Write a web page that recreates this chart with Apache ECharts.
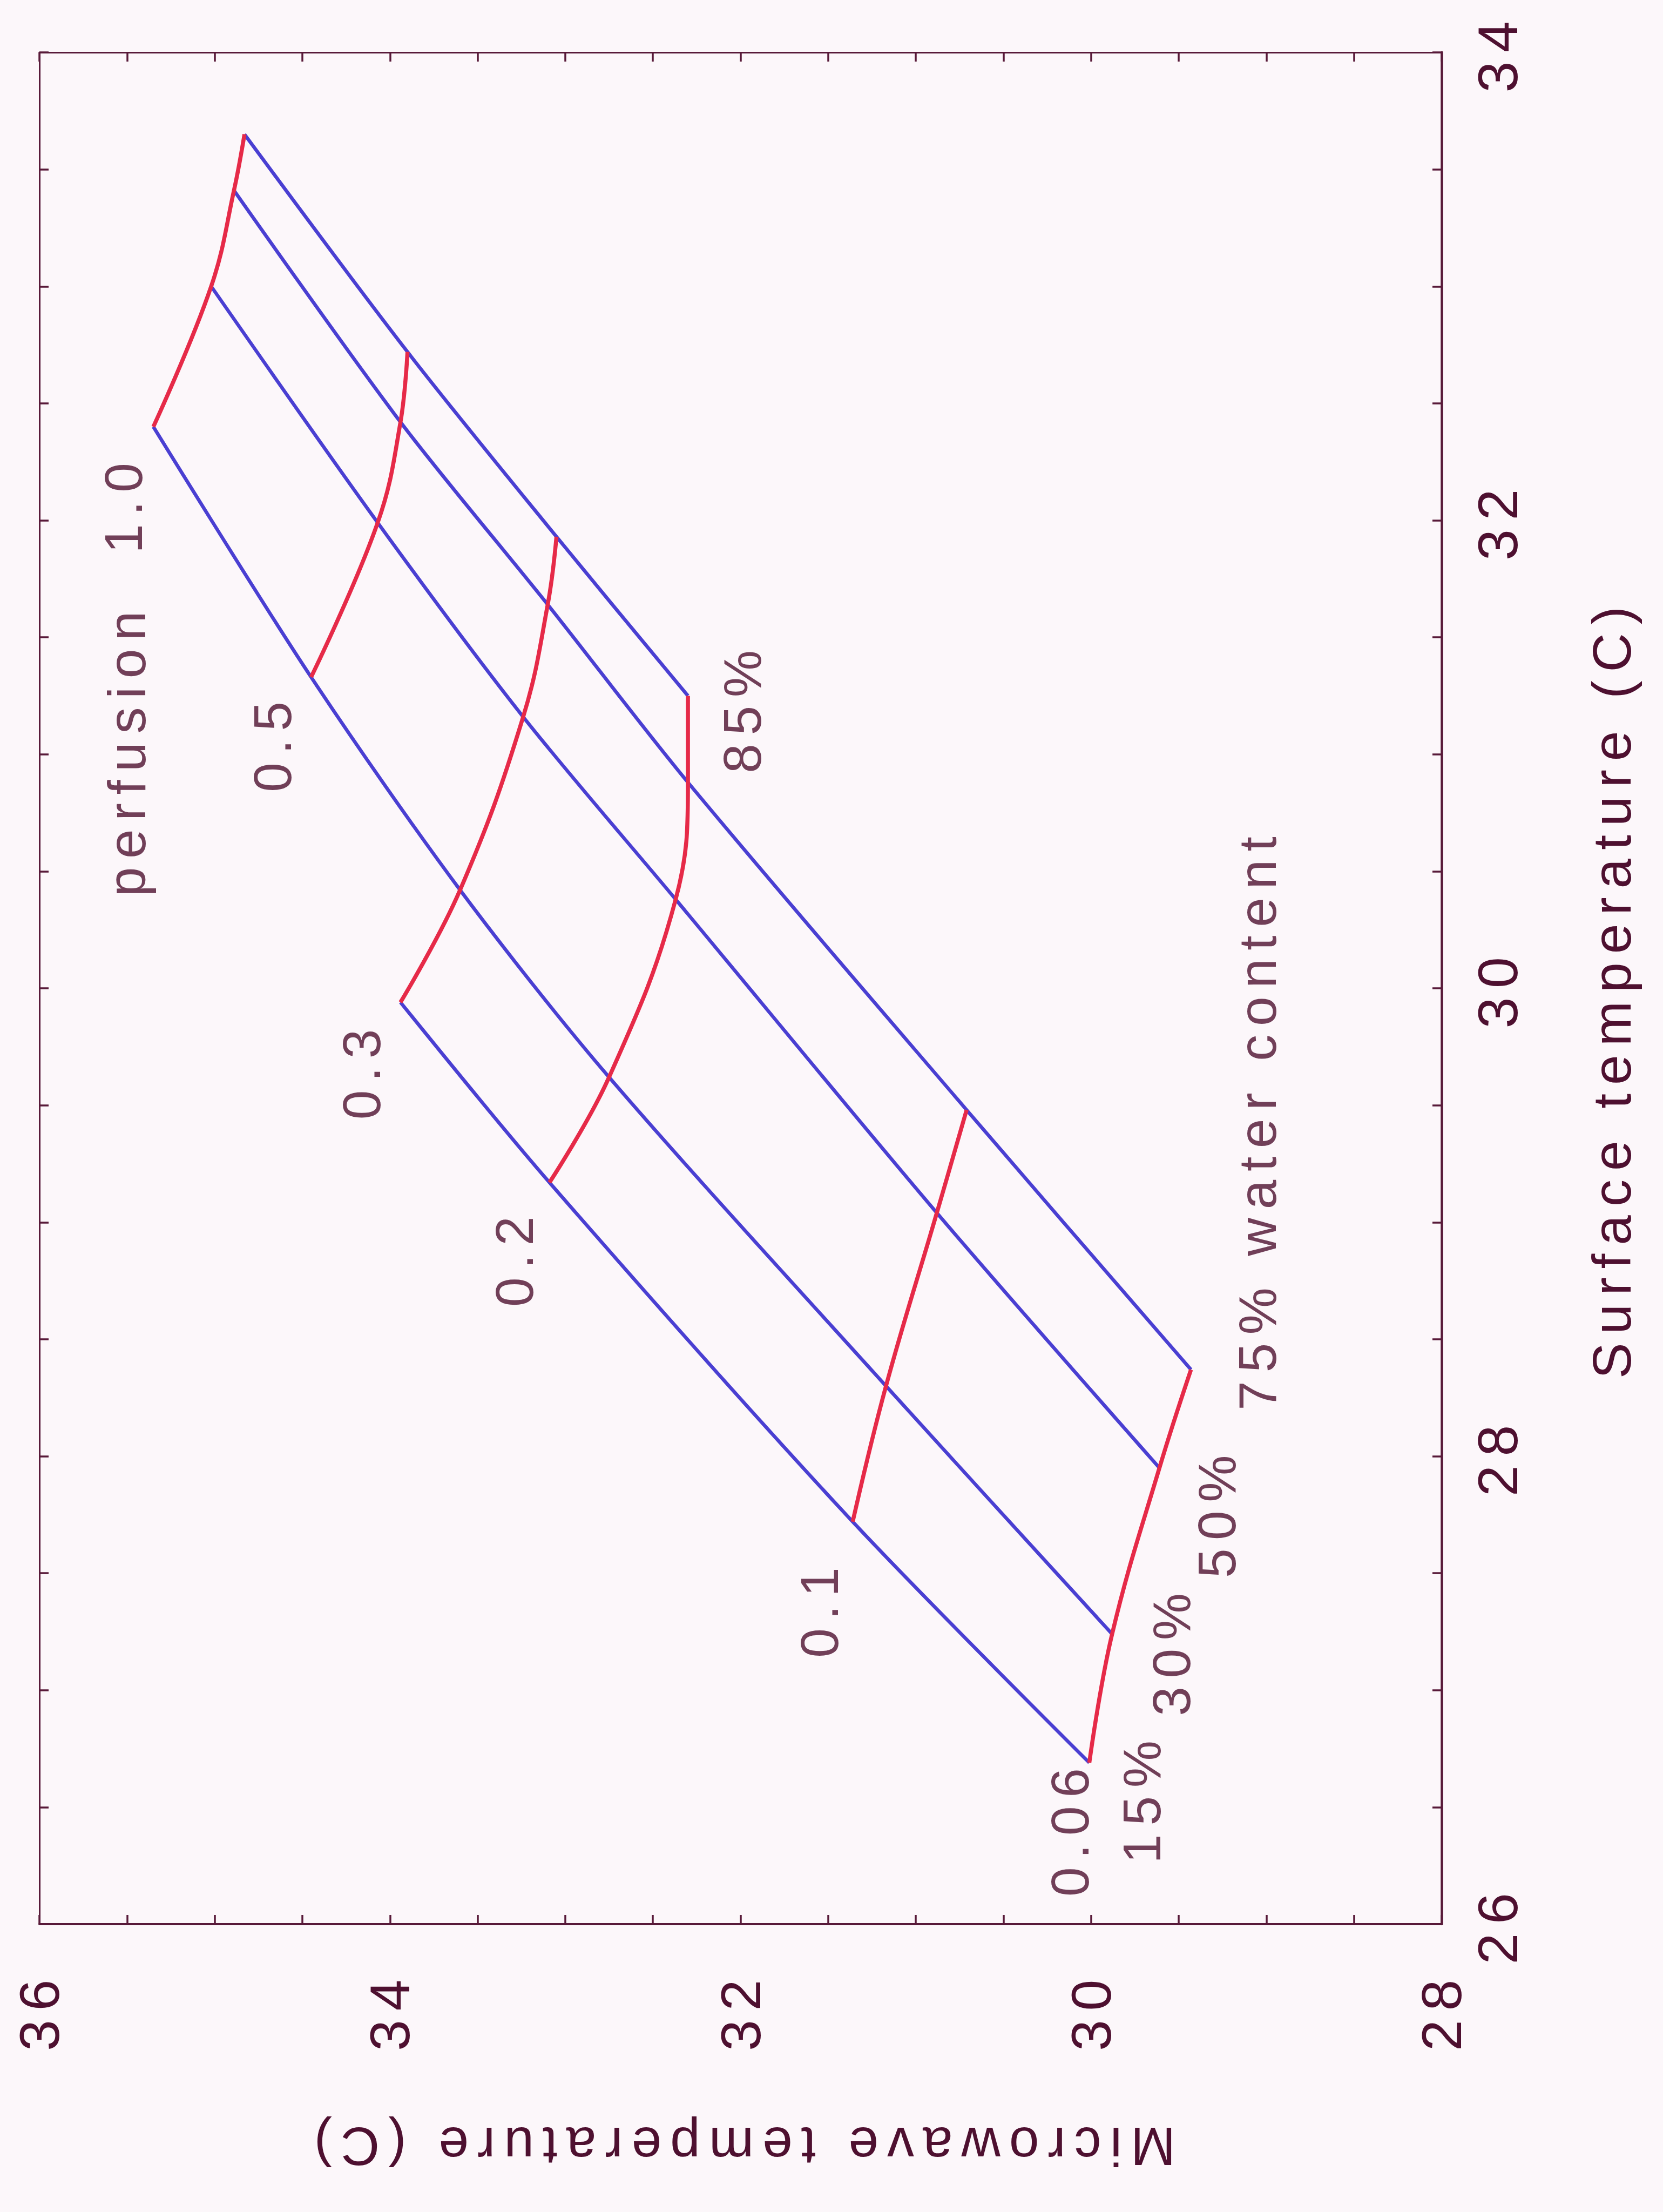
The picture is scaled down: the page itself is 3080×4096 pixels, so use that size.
<!DOCTYPE html>
<html>
<head>
<meta charset="utf-8">
<style>
html, body { margin: 0; padding: 0; background: #fcf7fa; }
#chart { width: 3080px; height: 4096px; }
#chart text { letter-spacing: 0.16em; }
</style>
<script src="https://cdn.jsdelivr.net/npm/echarts@6/dist/echarts.min.js"></script>
</head>
<body>
<div id="chart"></div>
<script>
// Perfusion levels (red curves) and water-content levels (blue curves)
const perfusion = [0.06, 0.1, 0.2, 0.3, 0.5, 1.0];
const perfusionLabels = ['0.06', '0.1', '0.2', '0.3', '0.5', '1.0'];
const waterContent = ['15%', '30%', '50%', '75%', '85%'];

// Microwave temperature (C) and surface temperature (C) at each perfusion level,
// one pair of arrays per water-content line (null = not computed)
const mw15 = [30.01, 31.36, 33.09, 33.94, null, null];
const st15 = [26.69, 27.72, 29.17, 29.94, null, null];
const mw30 = [29.88, 31.17, 32.75, 33.60, 34.45, 35.35];
const st30 = [27.24, 28.30, 29.62, 30.42, 31.33, 32.40];
const mw50 = [29.61, 30.88, 32.37, 33.24, 34.07, 35.02];
const st50 = [27.95, 29.04, 30.38, 31.16, 31.99, 33.00];
const mw75 = [29.43, 30.71, 32.30, 33.10, 33.94, 34.89];
const st75 = [28.37, 29.48, 30.88, 31.64, 32.42, 33.41];
const mw85 = [null, null, 32.30, 33.05, 33.90, 34.83];
const st85 = [null, null, 31.25, 31.93, 32.72, 33.65];

// Tick labels
const microwaveTicks = [28, 30, 32, 34, 36];
const surfaceTicks = [26, 28, 30, 32, 34];

// In-plot annotations: text, microwave temp, surface temp (label centres)
const annoText = ['0.06', '0.1', '0.2', '0.3', '0.5', '1.0', 'perfusion',
                  '15%', '30%', '50%', '75% water content', '85%'];
const annoMw = [30.12, 31.55, 33.29, 34.16, 34.67, 35.52, 35.50,
                29.71, 29.54, 29.28, 29.05, 31.99];
const annoSt = [26.41, 27.35, 28.85, 29.65, 31.05, 32.07, 31.02,
                26.54, 27.17, 27.76, 29.44, 31.20];

const mwLines = [mw15, mw30, mw50, mw75, mw85];
const stLines = [st15, st30, st50, st75, st85];

const FONT = '"Liberation Sans", Arial, Helvetica, sans-serif';
const TEXT = '#4e1030';
const AXIS = '#581a39';
const BLUE = '#4a3fd2';
const RED = '#e62a48';

const series = [];
// blue: constant water content
waterContent.forEach((w, j) => {
  const data = [];
  perfusion.forEach((p, i) => {
    if (mwLines[j][i] != null) data.push([mwLines[j][i], stLines[j][i]]);
  });
  series.push({
    name: w, type: 'line', data: data, showSymbol: false, smooth: 0.3,
    lineStyle: { color: BLUE, width: 6.5 }, silent: true, z: 2
  });
});
// red: constant perfusion
perfusion.forEach((p, i) => {
  const data = [];
  waterContent.forEach((w, j) => {
    if (mwLines[j][i] != null) data.push([mwLines[j][i], stLines[j][i]]);
  });
  series.push({
    name: 'perfusion ' + perfusionLabels[i], type: 'line', data: data, showSymbol: false, smooth: 0.4,
    lineStyle: { color: RED, width: 7.5 }, silent: true, z: 3
  });
});
// annotations
series.push({
  type: 'scatter', symbolSize: 1, itemStyle: { color: 'transparent' }, silent: true, z: 5,
  data: annoText.map((t, k) => ({ name: t, value: [annoMw[k], annoSt[k]] })),
  label: {
    show: true, position: 'inside', rotate: 90, formatter: '{b}',
    fontSize: 98, fontFamily: FONT, color: TEXT, align: 'center', verticalAlign: 'middle'
  }
});

const chart = echarts.init(document.getElementById('chart'), null, { renderer: 'svg' });
chart.setOption({
  animation: false,
  backgroundColor: '#fcf7fa',
  grid: { left: 73, right: 410, top: 97, bottom: 533, containLabel: false },
  xAxis: [
    {
      type: 'value', position: 'bottom', min: 28, max: 36, interval: 0.5, inverse: true,
      axisLine: { show: true, onZero: false, lineStyle: { color: AXIS, width: 4 } },
      axisTick: { show: true, inside: true, length: 17, lineStyle: { color: AXIS, width: 3.5 } },
      axisLabel: {
        show: true, rotate: 90, margin: 86, fontSize: 104, fontFamily: FONT, color: TEXT,
        formatter: v => (microwaveTicks.indexOf(v) >= 0 ? String(v) : '')
      },
      splitLine: { show: false },
      name: 'Microwave temperature (C)', nameLocation: 'middle', nameRotate: 180, nameGap: 362,
      nameTextStyle: { fontSize: 100, fontFamily: FONT, color: TEXT }
    },
    {
      type: 'value', position: 'top', min: 28, max: 36, interval: 0.5, inverse: true,
      axisLine: { show: true, onZero: false, lineStyle: { color: AXIS, width: 3 } },
      axisTick: { show: true, inside: true, length: 17, lineStyle: { color: AXIS, width: 3.5 } },
      axisLabel: { show: false }, splitLine: { show: false }
    }
  ],
  yAxis: [
    {
      type: 'value', position: 'right', min: 26, max: 34, interval: 0.5,
      axisLine: { show: true, onZero: false, lineStyle: { color: AXIS, width: 4.5 } },
      axisTick: { show: true, inside: true, length: 17, lineStyle: { color: AXIS, width: 3.5 } },
      axisLabel: {
        show: true, rotate: 90, margin: 52, fontSize: 104, fontFamily: FONT, color: TEXT,
        formatter: v => (surfaceTicks.indexOf(v) >= 0 ? String(v) : '')
      },
      splitLine: { show: false },
      name: 'Surface temperature (C)', nameLocation: 'middle', nameRotate: 90, nameGap: 265,
      nameTextStyle: { fontSize: 100, fontFamily: FONT, color: TEXT }
    },
    {
      type: 'value', position: 'left', min: 26, max: 34, interval: 0.5,
      axisLine: { show: true, onZero: false, lineStyle: { color: AXIS, width: 3 } },
      axisTick: { show: true, inside: true, length: 17, lineStyle: { color: AXIS, width: 3.5 } },
      axisLabel: { show: false }, splitLine: { show: false }
    }
  ],
  series: series
});
</script>
</body>
</html>
